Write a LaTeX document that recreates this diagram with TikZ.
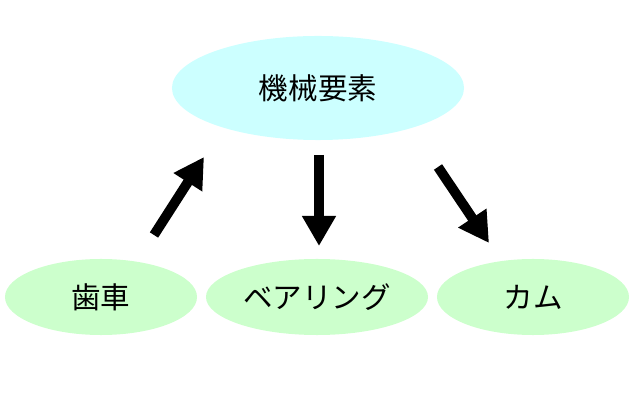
\documentclass[tikz,border=0pt]{standalone}
\usepackage{fontspec}
\newfontfamily\cjk{Noto Sans CJK JP}
\usetikzlibrary{arrows.meta,positioning,shapes.geometric}
\definecolor{lightcyan}{RGB}{204,255,255}
\definecolor{lightgreen}{RGB}{204,255,204}
\begin{document}
\begin{tikzpicture}[x=0.025cm,y=-0.025cm,
  topbox/.style={ellipse, fill=lightcyan, minimum width=7.3cm, minimum height=2.6cm, font=\cjk\fontsize{21}{24}\selectfont},
  partbox/.style={ellipse, fill=lightgreen, minimum width=4.8cm, minimum height=1.9cm, font=\cjk\fontsize{21}{24}\selectfont},
  arrow/.style={line width=7pt, -{Triangle[length=0.75cm,width=0.8cm]}}
]
  \useasboundingbox (0,0) rectangle (640,400);
  \node[topbox] (elem) at (318,88) {機械要素};
  \node[partbox] (gear) at (101,297) {歯車};
  \node[partbox] (bearing) at (317,297) {ベアリング};
  \node[partbox] (cam) at (533,297) {カム};

  \coordinate (g1) at (154,235);
  \coordinate (g2) at (204,157);
  \coordinate (b1) at (319,155);
  \coordinate (b2) at (319,246);
  \coordinate (c1) at (438,167);
  \coordinate (c2) at (489,243);

  \draw[arrow] (g1) -- (g2);
  \draw[arrow] (b1) -- (b2);
  \draw[arrow] (c1) -- (c2);
\end{tikzpicture}
\end{document}
